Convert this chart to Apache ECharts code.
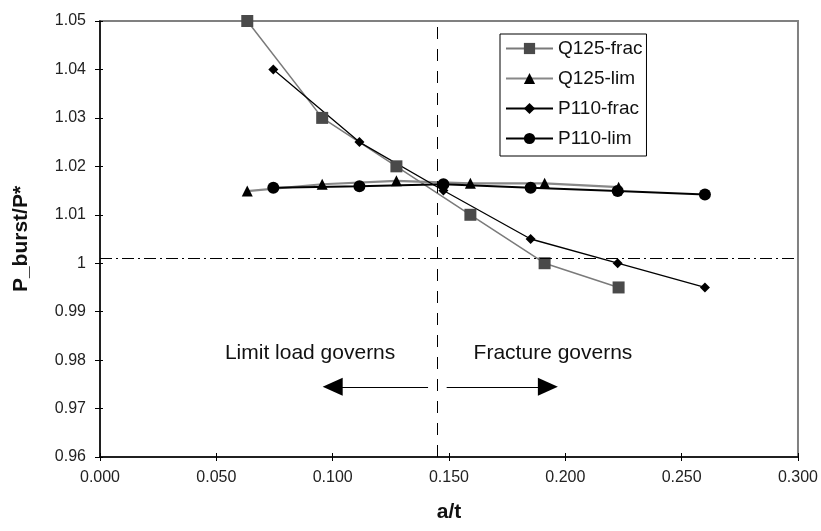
<!DOCTYPE html>
<html>
<head>
<meta charset="utf-8">
<script src="https://cdn.jsdelivr.net/npm/echarts@6/dist/echarts.min.js"></script>
<style>
  html, body { margin: 0; padding: 0; background: #fff; }
  #chart { width: 821px; height: 531px; }
</style>
</head>
<body>
<div id="chart"></div>
<script>
// a/t values of the two pipe grades
var q125X = [0.0633, 0.0955, 0.1274, 0.1592, 0.1911, 0.2229];
var p110X = [0.0745, 0.1115, 0.1476, 0.1851, 0.2225, 0.2600];

// P_burst/P*
var q125Frac = [1.050, 1.030, 1.020, 1.010, 1.000, 0.995];
var q125Lim  = [1.0149, 1.0163, 1.0170, 1.0165, 1.0165, 1.0157];
var p110Frac = [1.040, 1.025, 1.015, 1.005, 1.000, 0.995];
var p110Lim  = [1.0156, 1.0159, 1.0163, 1.0156, 1.0149, 1.0142];

var xTickLabels = ['0.000', '0.050', '0.100', '0.150', '0.200', '0.250', '0.300'];
var yTicks = [0.96, 0.97, 0.98, 0.99, 1, 1.01, 1.02, 1.03, 1.04, 1.05];

// reference lines and notes
var transitionX = 0.145;
var unityY = 1.001;
var notes = [
    { text: 'Limit load governs', x: 0.0903, y: 0.9815 },
    { text: 'Fracture governs', x: 0.1947, y: 0.9815 }
];
var arrows = [
    { from: [0.141, 0.9745], to: [0.100, 0.9745] },
    { from: [0.149, 0.9745], to: [0.1925, 0.9745] }
];

function pairs(xs, ys) {
    return xs.map(function (x, i) { return [x, ys[i]]; });
}

var font = '"Liberation Sans", Arial, sans-serif';
var xMin = 0, xMax = 0.3, xStep = 0.05;
var yMin = yTicks[0], yMax = yTicks[yTicks.length - 1];
var chart = echarts.init(document.getElementById('chart'));

var options = {
    animation: false,
    backgroundColor: '#fff',
    textStyle: { fontFamily: font },
    grid: {
        left: 100, right: 23, top: 21, bottom: 74,
        show: true, borderColor: '#808080', borderWidth: 2
    },
    legend: {
        data: ['Q125-frac', 'Q125-lim', 'P110-frac', 'P110-lim'],
        orient: 'vertical',
        left: 500, top: 34,
        itemWidth: 47, itemHeight: 14, itemGap: 11,
        padding: [5, 4, 8, 5],
        borderColor: '#000', borderWidth: 1, borderRadius: 0,
        backgroundColor: '#fff',
        textStyle: { fontFamily: font, fontSize: 19, color: '#111' }
    },
    xAxis: [{
        type: 'value',
        min: xMin, max: xMax, interval: xStep,
        name: 'a/t', nameLocation: 'middle', nameGap: 45,
        nameTextStyle: { fontFamily: font, fontSize: 21, fontWeight: 'bold', color: '#111' },
        axisLine: { lineStyle: { color: '#000', width: 1.5 } },
        axisTick: { show: true, length: 4, lineStyle: { color: '#000' } },
        axisLabel: {
            fontSize: 16, color: '#222', margin: 13,
            formatter: function (v) { return xTickLabels[Math.round(v / xStep)]; }
        },
        splitLine: { show: false }
    }, {
        // inner half of the crossing ticks
        type: 'value', position: 'bottom',
        min: xMin, max: xMax, interval: xStep,
        axisLine: { show: false },
        axisTick: { show: true, inside: true, length: 4, lineStyle: { color: '#000' } },
        axisLabel: { show: false },
        splitLine: { show: false }
    }],
    yAxis: [{
        type: 'value',
        min: yMin, max: yMax, interval: 0.01,
        name: 'P_burst/P*', nameLocation: 'middle', nameGap: 68,
        nameTextStyle: { fontFamily: font, fontSize: 21, fontWeight: 'bold', color: '#111' },
        axisLine: { show: true, lineStyle: { color: '#000', width: 1.5 } },
        axisTick: { show: true, length: 5, lineStyle: { color: '#000' } },
        axisLabel: { fontSize: 16, color: '#222', margin: 14 },
        splitLine: { show: false }
    }, {
        type: 'value', position: 'left',
        min: yMin, max: yMax, interval: 0.01,
        axisLine: { show: false },
        axisTick: { show: true, inside: true, length: 3, lineStyle: { color: '#000' } },
        axisLabel: { show: false },
        splitLine: { show: false }
    }],
    series: [
        {
            name: 'Q125-frac', type: 'line', clip: false,
            data: pairs(q125X, q125Frac),
            symbol: 'rect', symbolSize: 12,
            itemStyle: { color: '#4a4a4a' },
            lineStyle: { color: '#7a7a7a', width: 1.5 }
        },
        {
            name: 'Q125-lim', type: 'line', clip: false,
            data: pairs(q125X, q125Lim),
            symbol: 'triangle', symbolSize: 11,
            itemStyle: { color: '#000' },
            lineStyle: { color: '#888', width: 2.2 }
        },
        {
            name: 'P110-frac', type: 'line', clip: false,
            data: pairs(p110X, p110Frac),
            symbol: 'diamond', symbolSize: 10,
            itemStyle: { color: '#000' },
            lineStyle: { color: '#000', width: 1.3 }
        },
        {
            name: 'P110-lim', type: 'line', clip: false,
            data: pairs(p110X, p110Lim),
            symbol: 'circle', symbolSize: 12,
            itemStyle: { color: '#000' },
            lineStyle: { color: '#000', width: 2 }
        },
        {
            // reference lines, arrows and notes
            name: 'notes', type: 'line', data: [],
            markLine: {
                silent: true, symbol: 'none',
                label: { show: false },
                lineStyle: { color: '#000', width: 1, type: 'solid' },
                data: [
                    [
                        { coord: [transitionX, yMin], lineStyle: { color: '#000', width: 1, type: [12, 10] } },
                        { coord: [transitionX, yMax] }
                    ],
                    [
                        { coord: [xMin, unityY], lineStyle: { color: '#000', width: 1, type: [12, 4, 2, 4] } },
                        { coord: [xMax, unityY] }
                    ]
                ].concat(arrows.map(function (a) {
                    return [
                        { coord: a.from, symbol: 'none' },
                        { coord: a.to, symbol: 'triangle', symbolSize: [18, 20] }
                    ];
                }))
            },
            markPoint: {
                silent: true,
                symbol: 'circle', symbolSize: 1,
                itemStyle: { color: 'rgba(0,0,0,0)' },
                data: notes.map(function (n) {
                    return {
                        coord: [n.x, n.y],
                        label: {
                            show: true, position: 'inside', formatter: n.text,
                            fontFamily: font, fontSize: 21, color: '#111'
                        }
                    };
                })
            }
        }
    ]
};

chart.setOption(options);
</script>
</body>
</html>
